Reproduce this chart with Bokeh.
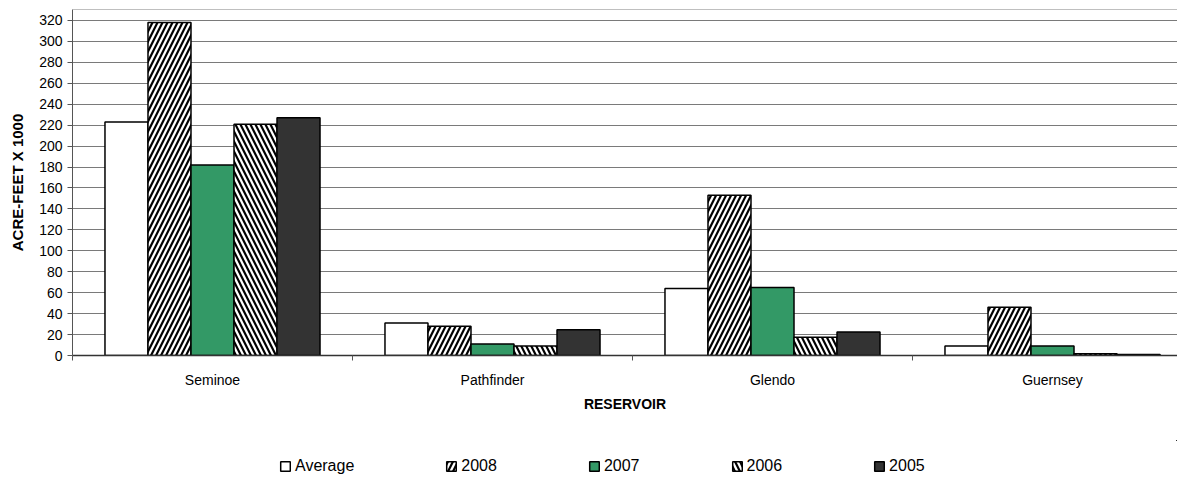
from bokeh.plotting import figure
from bokeh.layouts import column
from bokeh.models import (ColumnDataSource, Range1d, FixedTicker, Legend, LegendItem, Span)
from bokeh.embed import file_html
from bokeh.resources import INLINE

# ---- data ----
reservoirs = ["Seminoe", "Pathfinder", "Glendo", "Guernsey"]
series_names = ["Average", "2008", "2007", "2006", "2005"]
average = [223, 31, 64, 9]
y2008 = [318, 28, 153, 46]
y2007 = [182, 11, 65, 9]
y2006 = [221, 9, 17.5, 1.6]
y2005 = [227, 24.5, 22.5, 1]
y_ticks = list(range(0, 321, 20))

values = [average, y2008, y2007, y2006, y2005]

# ---- styles ----
fills = ["white", "white", "#339966", "white", "#333333"]
hatches = [None, "/", None, "\\", None]

FONT = "Liberation Sans"
W = 1177
H_MAIN, H_LEG = 440, 37
LEFT, TOP, BOTTOM = 72, 9, 355
bar_w = 0.1536
y_end = 330.5
x_end = (W - LEFT) / 280.0

p = figure(width=W, height=H_MAIN, output_backend="svg", toolbar_location=None,
           x_range=Range1d(0, x_end), y_range=Range1d(0, y_end),
           min_border_left=LEFT, min_border_top=TOP, min_border_right=0,
           min_border_bottom=H_MAIN - BOTTOM)
p.outline_line_color = None
p.background_fill_color = "white"


def bar_style(k):
    kw = dict(fill_color=fills[k], line_color="black", line_width=1.5)
    if hatches[k]:
        kw.update(hatch_pattern=hatches[k], hatch_color="black",
                  hatch_scale=10, hatch_weight=2.2)
    return kw


centers = [i + 0.5 for i in range(len(reservoirs))]
sources = []
for k, (name, vals) in enumerate(zip(series_names, values)):
    off = (k - 2) * bar_w
    src = ColumnDataSource(dict(x=[c + off for c in centers], top=vals))
    sources.append(src)
    p.vbar(x="x", top="top", bottom=0, width=bar_w, source=src, **bar_style(k))

# top border
p.add_layout(Span(location=y_end, dimension="width", line_color="#808080", line_width=1.2))

# grid
p.xgrid.visible = False
p.ygrid.ticker = FixedTicker(ticks=y_ticks)
p.ygrid.grid_line_color = "#7a7a7a"
p.ygrid.grid_line_width = 1.2

# y axis
p.yaxis.ticker = FixedTicker(ticks=y_ticks)
p.yaxis.axis_label = "ACRE-FEET X 1000"
p.yaxis.axis_label_text_font = FONT
p.yaxis.axis_label_text_font_style = "bold"
p.yaxis.axis_label_text_font_size = "15px"
p.yaxis.axis_label_text_color = "black"
p.yaxis.axis_label_standoff = 10
p.yaxis.major_label_text_font = FONT
p.yaxis.major_label_text_font_size = "14px"
p.yaxis.major_label_text_color = "black"
p.yaxis.major_label_standoff = 5
p.yaxis.major_tick_out = 5
p.yaxis.major_tick_in = 0
p.yaxis.minor_tick_out = 0
p.yaxis.minor_tick_in = 0
p.yaxis.axis_line_color = "#555555"
p.yaxis.major_tick_line_color = "#555555"

# x axis
p.xaxis.ticker = FixedTicker(ticks=centers, minor_ticks=list(range(len(reservoirs) + 1)))
p.xaxis.major_label_overrides = {c: n for c, n in zip(centers, reservoirs)}
p.xaxis.major_tick_out = 0
p.xaxis.major_tick_in = 0
p.xaxis.minor_tick_out = 5
p.xaxis.minor_tick_in = 0
p.xaxis.minor_tick_line_color = "#555555"
p.xaxis.axis_line_color = "#333333"
p.xaxis.axis_line_width = 1.5
p.xaxis.major_label_text_font = FONT
p.xaxis.major_label_text_font_size = "14px"
p.xaxis.major_label_text_color = "black"
p.xaxis.major_label_standoff = 11
p.xaxis.axis_label = "RESERVOIR"
p.xaxis.axis_label_text_font = FONT
p.xaxis.axis_label_text_font_style = "bold"
p.xaxis.axis_label_text_font_size = "14px"
p.xaxis.axis_label_text_color = "black"
p.xaxis.axis_label_standoff = 5

# legend figure (separate strip under the chart); same sources, bars far out of view
lf = figure(width=W, height=H_LEG, output_backend="svg", toolbar_location=None,
            x_range=Range1d(-100, -99), y_range=Range1d(-1000, -999),
            min_border_left=LEFT, min_border_right=0, min_border_top=0, min_border_bottom=0)
lf.axis.visible = False
lf.grid.visible = False
lf.outline_line_color = None
items = []
for k, name in enumerate(series_names):
    r = lf.vbar(x="x", top="top", bottom=0, width=bar_w, source=sources[k], **bar_style(k))
    items.append(LegendItem(label=name, renderers=[r]))
legend = Legend(items=items, orientation="horizontal", location=(279 - LEFT, 2),
                glyph_width=12, glyph_height=12, label_standoff=4, spacing=91,
                padding=0, margin=0, border_line_color=None,
                background_fill_alpha=0, label_text_color="black",
                label_text_font=FONT, label_text_font_size="16px")
lf.add_layout(legend, "center")

layout = column(p, lf, spacing=0)
open("out.html", "w").write(file_html(layout, INLINE))
